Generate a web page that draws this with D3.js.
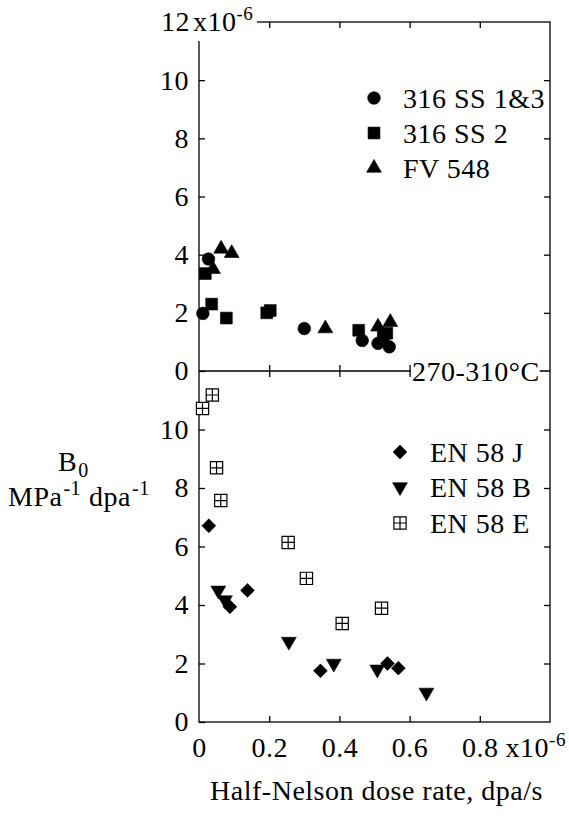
<!DOCTYPE html>
<html><head><meta charset="utf-8">
<script src="https://cdn.jsdelivr.net/npm/d3@7"></script>
<style>
html,body{margin:0;padding:0;background:#fff;}
svg{display:block;}
svg text{font-family:"Liberation Serif","Times New Roman",serif;letter-spacing:0.5px;fill:#000;}
</style></head><body>
<svg id="chart" width="569" height="817"></svg>
<script>
// Dose rate in units of 1e-6 dpa/s, B0 in units of 1e-6 MPa^-1 dpa^-1
const upperSeries = ["316 SS 1&3", "316 SS 2", "FV 548"];
const ss13Rate = [0.011, 0.027, 0.300, 0.465, 0.510, 0.542];
const ss13B0   = [1.98, 3.85, 1.46, 1.05, 0.95, 0.83];
const ss2Rate  = [0.018, 0.036, 0.078, 0.193, 0.203, 0.455, 0.525, 0.535];
const ss2B0    = [3.35, 2.30, 1.82, 2.00, 2.08, 1.40, 1.18, 1.30];
const fv548Rate = [0.040, 0.063, 0.093, 0.360, 0.510, 0.545];
const fv548B0   = [3.50, 4.20, 4.05, 1.46, 1.52, 1.68];

const lowerSeries = ["EN 58 J", "EN 58 B", "EN 58 E"];
const en58jRate = [0.028, 0.088, 0.138, 0.346, 0.537, 0.568];
const en58jB0   = [6.71, 3.94, 4.50, 1.75, 2.00, 1.84];
const en58bRate = [0.055, 0.074, 0.256, 0.384, 0.508, 0.648];
const en58bB0   = [4.50, 4.17, 2.75, 2.00, 1.80, 1.01];
const en58eRate = [0.010, 0.038, 0.050, 0.062, 0.254, 0.306, 0.408, 0.520];
const en58eB0   = [10.72, 11.18, 8.69, 7.57, 6.14, 4.91, 3.37, 3.89];

const xTicks = [0, 0.2, 0.4, 0.6, 0.8];
const yTicks = [0, 2, 4, 6, 8, 10];
const tempLabel = "270-310°C";
const xTitle = "Half-Nelson dose rate, dpa/s";

// layout
const plotLeft = 199, plotRight = 550, plotTop = 22, plotMid = 371, plotBottom = 722;
const fs = 28, supFs = 19;

const svg = d3.select("#chart");
const x  = d3.scaleLinear([0, 1], [plotLeft, plotRight]);
const yU = d3.scaleLinear([0, 12], [plotMid, plotTop]);
const yL = d3.scaleLinear([0, 12], [plotBottom, plotMid]);

// open square with a cross inside
const symbolBoxCross = {
  draw(ctx, size) {
    const r = Math.sqrt(size) / 2;
    ctx.moveTo(-r, -r); ctx.lineTo(r, -r); ctx.lineTo(r, r); ctx.lineTo(-r, r); ctx.closePath();
    ctx.moveTo(0, -r); ctx.lineTo(0, r);
    ctx.moveTo(-r, 0); ctx.lineTo(r, 0);
  }
};

const styles = {
  "316 SS 1&3": {type: d3.symbolCircle, size: 125, rot: 0, fill: "#000"},
  "316 SS 2":   {type: d3.symbolSquare, size: 140, rot: 0, fill: "#000"},
  "FV 548":     {type: d3.symbolTriangle, size: 95, rot: 0, fill: "#000"},
  "EN 58 J":    {type: d3.symbolSquare, size: 95, rot: 45, fill: "#000"},
  "EN 58 B":    {type: d3.symbolTriangle, size: 95, rot: 180, fill: "#000"},
  "EN 58 E":    {type: symbolBoxCross, size: 150, rot: 0, fill: "#fff"}
};

function drawMarker(g, name, cx, cy) {
  const s = styles[name];
  g.append("path")
    .attr("d", d3.symbol(s.type, s.size)())
    .attr("transform", `translate(${cx},${cy}) rotate(${s.rot})`)
    .attr("fill", s.fill)
    .attr("stroke", "#000")
    .attr("stroke-width", s.fill === "#fff" ? 1.2 : 0.6);
}

const strokeW = 1.3;
const axisStyle = g => {
  g.attr("font-family", null).attr("font-size", fs);
  g.select(".domain").remove();
  g.selectAll(".tick line").attr("stroke", "#000").attr("stroke-width", strokeW);
  g.selectAll(".tick text").attr("fill", "#000");
};

// frame and panel divider
svg.append("rect").attr("x", plotLeft).attr("y", plotTop).attr("width", plotRight - plotLeft).attr("height", plotBottom - plotTop)
  .attr("fill", "none").attr("stroke", "#000").attr("stroke-width", strokeW);
svg.append("line").attr("x1", plotLeft).attr("x2", plotRight).attr("y1", plotMid).attr("y2", plotMid)
  .attr("stroke", "#000").attr("stroke-width", strokeW);

// left axes
svg.append("g").attr("transform", `translate(${plotLeft},0)`)
  .call(d3.axisLeft(yU).tickValues(yTicks).tickSizeInner(-6).tickSizeOuter(0).tickPadding(10).tickFormat(d3.format("d")))
  .call(axisStyle);
svg.append("g").attr("transform", `translate(${plotLeft},0)`)
  .call(d3.axisLeft(yL).tickValues(yTicks).tickSizeInner(-6).tickSizeOuter(0).tickPadding(10).tickFormat(d3.format("d")))
  .call(axisStyle);
// right axes
svg.append("g").attr("transform", `translate(${plotRight},0)`)
  .call(d3.axisRight(yU).tickValues(yTicks.slice(1)).tickSizeInner(-6).tickSizeOuter(0).tickFormat(""))
  .call(axisStyle);
svg.append("g").attr("transform", `translate(${plotRight},0)`)
  .call(d3.axisRight(yL).tickValues(yTicks.slice(1)).tickSizeInner(-6).tickSizeOuter(0).tickFormat(""))
  .call(axisStyle);
// top axis
svg.append("g").attr("transform", `translate(0,${plotTop})`)
  .call(d3.axisTop(x).tickValues(xTicks.slice(1)).tickSizeInner(-6).tickSizeOuter(0).tickFormat(""))
  .call(axisStyle);
// divider ticks cross the line
svg.append("g").attr("transform", `translate(0,${plotMid})`)
  .call(d3.axisTop(x).tickValues([0.2, 0.4, 0.6]).tickSizeInner(6).tickSizeOuter(0).tickFormat(""))
  .call(axisStyle);
svg.append("g").attr("transform", `translate(0,${plotMid})`)
  .call(d3.axisBottom(x).tickValues([0.2, 0.4, 0.6]).tickSizeInner(6).tickSizeOuter(0).tickFormat(""))
  .call(axisStyle);
// bottom axis
const bottomAxis = svg.append("g").attr("transform", `translate(0,${plotBottom})`)
  .call(d3.axisBottom(x).tickValues(xTicks).tickSizeInner(-6).tickSizeOuter(0).tickPadding(15)
    .tickFormat(d => d === 0 ? "0" : d3.format(".1f")(d)))
  .call(axisStyle);
bottomAxis.selectAll(".tick line").filter(d => d === 0).remove();

// exponent after the last x tick label
bottomAxis.selectAll(".tick").filter(d => d === xTicks[xTicks.length - 1]).each(function () {
  const t = d3.select(this).select("text");
  const w = t.node().getComputedTextLength();
  const e = d3.select(this).append("text")
    .attr("x", w / 2 + 7).attr("y", t.attr("y")).attr("dy", t.attr("dy"))
    .attr("text-anchor", "start").attr("font-size", fs);
  e.append("tspan").text("x10");
  e.append("tspan").attr("font-size", supFs).attr("dy", -11).text("-6");
});

// "12 x10^-6" label at the top of the y axis
svg.append("rect").attr("x", 187).attr("y", 4).attr("width", 70).attr("height", 37).attr("fill", "#fff");
svg.append("text").attr("x", 190).attr("y", yU(12)).attr("dy", "0.32em").attr("text-anchor", "end")
  .attr("font-size", fs).text("12");
svg.append("text").attr("x", 193).attr("y", yU(12)).attr("dy", "0.32em").attr("font-size", fs)
  .call(t => {
    t.append("tspan").text("x10");
    t.append("tspan").attr("font-size", supFs).attr("dy", -11).text("-6");
  });

// temperature label sitting on the divider
const tempText = svg.append("text").attr("x", 412).attr("y", plotMid).attr("dy", "0.34em")
  .attr("font-size", fs).text(tempLabel);
const tw = tempText.node().getComputedTextLength();
svg.insert("rect", () => tempText.node())
  .attr("x", 411).attr("y", plotMid - 12).attr("width", tw + 1).attr("height", 24).attr("fill", "#fff");

// data
const upper = [[upperSeries[0], ss13Rate, ss13B0], [upperSeries[1], ss2Rate, ss2B0], [upperSeries[2], fv548Rate, fv548B0]];
const lower = [[lowerSeries[0], en58jRate, en58jB0], [lowerSeries[1], en58bRate, en58bB0], [lowerSeries[2], en58eRate, en58eB0]];

const gU = svg.append("g");
upper.forEach(([name, xs, ys]) => xs.forEach((v, i) => drawMarker(gU, name, x(v), yU(ys[i]))));
const gL = svg.append("g");
lower.forEach(([name, xs, ys]) => xs.forEach((v, i) => drawMarker(gL, name, x(v), yL(ys[i]))));

// legends
const legU = svg.append("g");
[98, 133, 168].forEach((ly, i) => {
  drawMarker(legU, upperSeries[i], 374, ly);
  legU.append("text").attr("x", 403).attr("y", ly).attr("dy", "0.34em").attr("font-size", fs).text(upperSeries[i]);
});
const legL = svg.append("g");
[452, 487, 523].forEach((ly, i) => {
  drawMarker(legL, lowerSeries[i], 400, ly);
  legL.append("text").attr("x", 430).attr("y", ly).attr("dy", "0.34em").attr("font-size", fs).text(lowerSeries[i]);
});

// y axis title
const yt1 = svg.append("text").attr("x", 58).attr("y", 471).attr("font-size", fs);
yt1.append("tspan").text("B");
yt1.append("tspan").attr("font-size", supFs + 1).attr("dx", 1).attr("dy", 6).text("0");
const yt2 = svg.append("text").attr("x", 8).attr("y", 506).attr("font-size", fs);
yt2.append("tspan").text("MPa");
yt2.append("tspan").attr("font-size", supFs + 1).attr("dx", 1).attr("dy", -11).text("-1");
yt2.append("tspan").attr("dx", 8).attr("dy", 11).text("dpa");
yt2.append("tspan").attr("font-size", supFs + 1).attr("dx", 1).attr("dy", -11).text("-1");

// x axis title
svg.append("text").attr("x", (plotLeft + plotRight) / 2 + 2).attr("y", 800).attr("text-anchor", "middle")
  .attr("font-size", fs).text(xTitle);
</script>
</body></html>
